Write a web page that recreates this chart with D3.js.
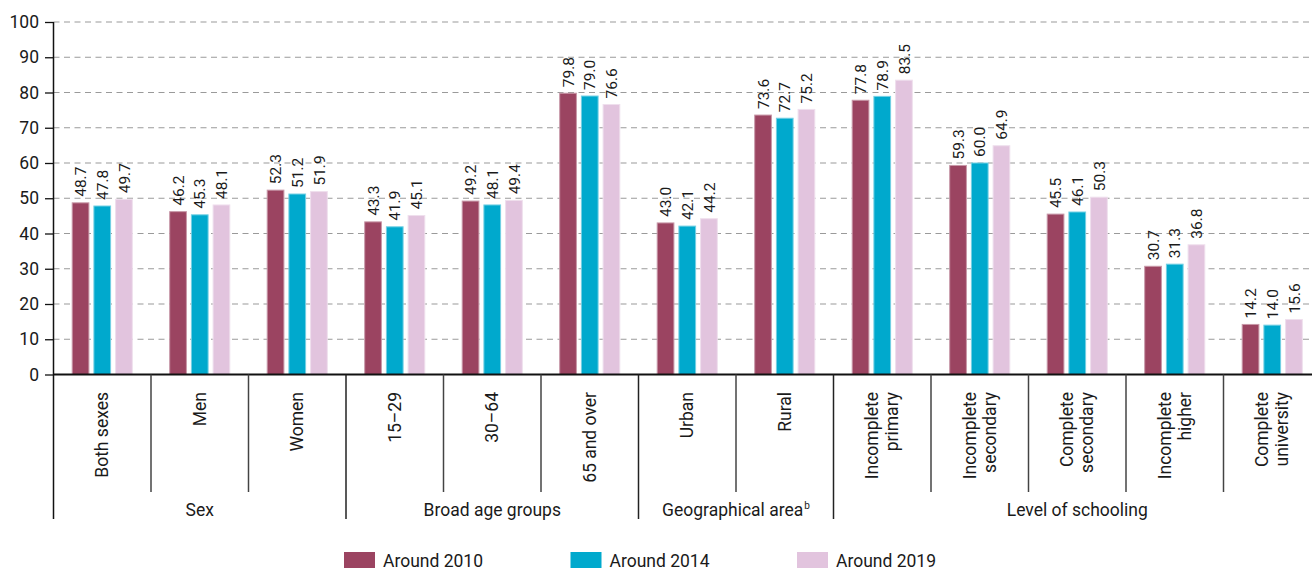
<!DOCTYPE html>
<html>
<head>
<meta charset="utf-8">
<script src="https://cdn.jsdelivr.net/npm/d3@7"></script>
<style>
  html, body { margin: 0; padding: 0; background: #fff; }
  svg { display: block; }
  text { font-family: Roboto, "Noto Sans", "Liberation Sans", sans-serif; fill: #1a1a1a; }
</style>
</head>
<body>
<svg id="chart" width="1312" height="571"></svg>
<script>
// ---- Data ----
const categories = [
  ["Both sexes"], ["Men"], ["Women"],
  ["15\u201329"], ["30\u201364"], ["65 and over"],
  ["Urban"], ["Rural"],
  ["Incomplete", "primary"], ["Incomplete", "secondary"], ["Complete", "secondary"],
  ["Incomplete", "higher"], ["Complete", "university"]
];
const seriesNames = ["Around 2010", "Around 2014", "Around 2019"];
const around2010 = [48.7, 46.2, 52.3, 43.3, 49.2, 79.8, 43.0, 73.6, 77.8, 59.3, 45.5, 30.7, 14.2];
const around2014 = [47.8, 45.3, 51.2, 41.9, 48.1, 79.0, 42.1, 72.7, 78.9, 60.0, 46.1, 31.3, 14.0];
const around2019 = [49.7, 48.1, 51.9, 45.1, 49.4, 76.6, 44.2, 75.2, 83.5, 64.9, 50.3, 36.8, 15.6];
const groups = [
  { label: "Sex", start: 0, end: 3 },
  { label: "Broad age groups", start: 3, end: 6 },
  { label: "Geographical area", sup: "b", start: 6, end: 8 },
  { label: "Level of schooling", start: 8, end: 13 }
];
const yTicks = [0, 10, 20, 30, 40, 50, 60, 70, 80, 90, 100];
const colors = ["#9b4461", "#00a9cd", "#e2c4de"];

const values = [around2010, around2014, around2019];

// ---- Layout ----
const svg = d3.select("#chart");
const left = 53.5, baseY = 374.5, topY = 22;
const step = 97.5;
const right = left + categories.length * step;
const W = 1312;

const x0 = d3.scaleBand().domain(d3.range(categories.length)).range([left, right]).paddingInner(0).paddingOuter(0);
const x1 = d3.scaleBand().domain(d3.range(3)).range([0, x0.bandwidth()]).paddingInner(0.23).paddingOuter(0.862);
const y = d3.scaleLinear().domain([0, 100]).range([baseY, topY]);

// gridlines
svg.append("g").selectAll("line").data(yTicks.filter(d => d > 0)).join("line")
  .attr("x1", left).attr("x2", W)
  .attr("y1", d => y(d)).attr("y2", d => y(d))
  .attr("stroke", "#9a9a9a").attr("stroke-width", 1.2).attr("stroke-dasharray", "6,4.5");

// y axis
const yAxis = d3.axisLeft(y).tickValues(yTicks).tickSize(8.5).tickPadding(6).tickFormat(d3.format("d"));
const gy = svg.append("g").attr("transform", `translate(${left},0)`).call(yAxis);
gy.select(".domain").remove();
gy.selectAll(".tick line").attr("stroke", "#111").attr("stroke-width", 1.3);
gy.selectAll(".tick text").attr("font-size", 17.5).attr("fill", "#1a1a1a")
  .attr("font-family", null);
gy.attr("font-family", null).attr("font-size", null);

// bars
const bars = svg.append("g");
categories.forEach((c, i) => {
  values.forEach((arr, s) => {
    const v = arr[i];
    const bx = x0(i) + x1(s);
    bars.append("rect")
      .attr("x", bx).attr("y", y(v))
      .attr("width", x1.bandwidth()).attr("height", baseY - y(v))
      .attr("fill", colors[s])
      .attr("stroke", d3.interpolateRgb(colors[s], "#ffffff")(0.45))
      .attr("stroke-width", 1);
    const cx = bx + x1.bandwidth() / 2;
    bars.append("text")
      .attr("transform", `translate(${cx},${y(v) - 6}) rotate(-90)`)
      .attr("text-anchor", "start").attr("dy", "0.36em")
      .attr("font-size", 15.5)
      .text(v.toFixed(1));
  });
});

// baseline and left axis
svg.append("line").attr("x1", left).attr("x2", W).attr("y1", baseY).attr("y2", baseY)
  .attr("stroke", "#111").attr("stroke-width", 1.8);
svg.append("line").attr("x1", left).attr("x2", left).attr("y1", y(100)).attr("y2", 519)
  .attr("stroke", "#111").attr("stroke-width", 1.5);

// category separators
const groupEdges = new Set(groups.map(g => g.end));
d3.range(1, categories.length + 1).forEach(i => {
  const xx = x0(i) !== undefined ? x0(i) : right;
  const isGroup = groupEdges.has(i);
  svg.append("line").attr("x1", xx).attr("x2", xx).attr("y1", baseY).attr("y2", isGroup ? 519 : 492)
    .attr("stroke", isGroup ? "#222" : "#444").attr("stroke-width", 1.5);
});

// category labels
categories.forEach((lines, i) => {
  const cx = x0(i) + x0.bandwidth() / 2;
  const n = lines.length;
  lines.forEach((ln, k) => {
    const off = (k - (n - 1) / 2) * 20;
    svg.append("text")
      .attr("transform", `translate(${cx + off},392) rotate(-90)`)
      .attr("text-anchor", "end").attr("dy", "0.35em")
      .attr("font-size", 17.5)
      .text(ln);
  });
});

// group labels
groups.forEach(g => {
  const gx0 = g.start === 0 ? left : x0(g.start);
  const gx1 = g.end >= categories.length ? right : x0(g.end);
  const t = svg.append("text")
    .attr("x", (gx0 + gx1) / 2).attr("y", 516)
    .attr("text-anchor", "middle").attr("font-size", 17.5)
    .text(g.label);
  if (g.sup) {
    t.append("tspan").attr("font-size", 10).attr("dy", -7).attr("dx", 1).text(g.sup);
  }
});

// legend
const legendX = [344, 570.5, 797];
seriesNames.forEach((name, s) => {
  const lg = svg.append("g").attr("transform", `translate(${legendX[s]},552)`);
  lg.append("rect").attr("width", 31).attr("height", 16).attr("fill", colors[s]);
  lg.append("text").attr("x", 39).attr("y", 15).attr("font-size", 17.5).text(name);
});
</script>
</body>
</html>
